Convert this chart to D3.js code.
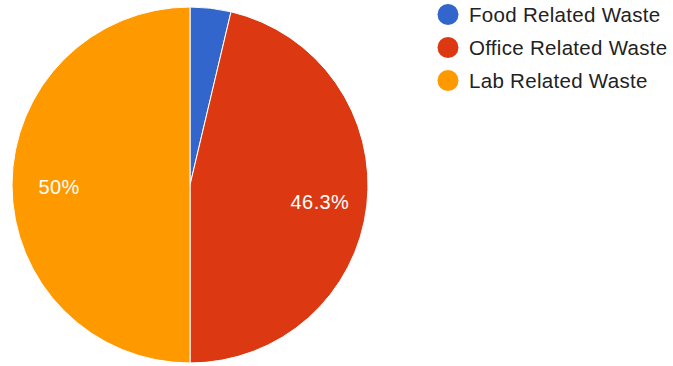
<!DOCTYPE html>
<html>
<head>
<meta charset="utf-8">
<script src="https://cdn.jsdelivr.net/npm/d3@7"></script>
<style>
  html, body { margin: 0; padding: 0; background: #fff; }
  svg { display: block; }
</style>
</head>
<body>
<svg id="chart" width="673" height="366"></svg>
<script>
// Waste breakdown by source (percent of total)
const categories = ["Food Related Waste", "Office Related Waste", "Lab Related Waste"];
const values = [3.7, 46.3, 50];
const valueLabels = ["3.7%", "46.3%", "50%"];
const colors = ["#3366cc", "#dc3912", "#ff9900"];

const svg = d3.select("#chart");
const cx = 190, cy = 185, radius = 178;
const fontFamily = "Arial, 'Liberation Sans', sans-serif";

const data = categories.map((c, i) => ({ name: c, value: values[i], label: valueLabels[i], color: colors[i] }));

const pie = d3.pie().value(d => d.value).sort(null);
const arc = d3.arc().innerRadius(0).outerRadius(radius);
const labelArc = d3.arc().innerRadius(radius * 0.735).outerRadius(radius * 0.735);

const g = svg.append("g").attr("transform", `translate(${cx},${cy})`);
const arcs = pie(data);

g.selectAll("path.slice")
  .data(arcs)
  .join("path")
  .attr("class", "slice")
  .attr("d", arc)
  .attr("fill", d => d.data.color)
  .attr("stroke", "#ffffff")
  .attr("stroke-width", 1);

// Only slices large enough to hold text get a value label
g.selectAll("text.val")
  .data(arcs.filter(d => d.endAngle - d.startAngle > 0.5))
  .join("text")
  .attr("class", "val")
  .attr("transform", d => { const [x, y] = labelArc.centroid(d); return `translate(${x},${y + 1.5})`; })
  .attr("text-anchor", "middle")
  .attr("dominant-baseline", "central")
  .attr("font-family", fontFamily)
  .attr("font-size", 20)
  .attr("letter-spacing", 0.4)
  .attr("fill", "#ffffff")
  .text(d => d.data.label);

// Legend
const legend = svg.append("g").attr("transform", "translate(448,14.5)");
const item = legend.selectAll("g.item")
  .data(data)
  .join("g")
  .attr("class", "item")
  .attr("transform", (d, i) => `translate(0,${i * 33})`);

item.append("circle")
  .attr("r", 10.5)
  .attr("fill", d => d.color);

item.append("text")
  .attr("x", 21)
  .attr("y", 7)
  .attr("font-family", fontFamily)
  .attr("font-size", 20.5)
  .attr("letter-spacing", 0.3)
  .attr("fill", "#222222")
  .text(d => d.name);
</script>
</body>
</html>
